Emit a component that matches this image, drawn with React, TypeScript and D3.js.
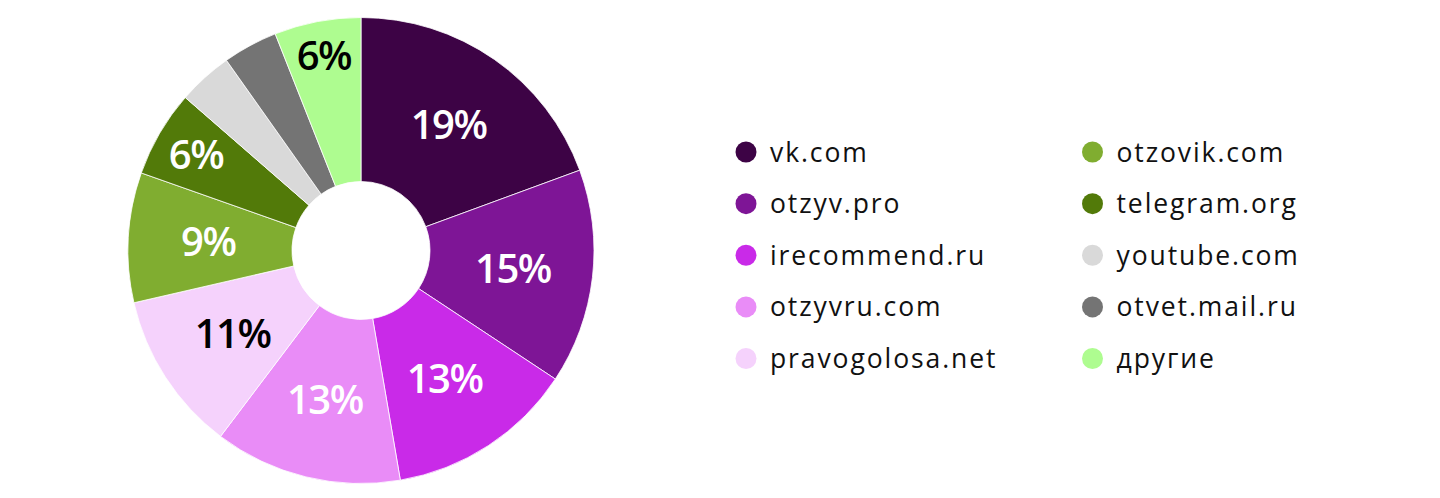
import React, { useEffect, useRef } from "react";
import * as d3 from "d3";

const categories = [
  "vk.com",
  "otzyv.pro",
  "irecommend.ru",
  "otzyvru.com",
  "pravogolosa.net",
  "otzovik.com",
  "telegram.org",
  "youtube.com",
  "otvet.mail.ru",
  "другие",
];
const shares = [19.4, 14.9, 13.0, 13.0, 11.1, 9.0, 6.0, 3.8, 3.8, 6.0];
const palette = [
  "#3d0345",
  "#7e1596",
  "#c92ae8",
  "#e98cf7",
  "#f5d2fc",
  "#80ad30",
  "#527a09",
  "#d9d9d9",
  "#747474",
  "#aefc90",
];

const W = 1440;
const H = 498;
const CX = 361;
const CY = 250.5;
const R_OUT = 233;
const R_IN = 69;
const LABEL_FONT = 40;
const LEGEND_FONT = 26.5;

function luminance(c: string) {
  const rgb = d3.rgb(c);
  const f = (v: number) => {
    const s = v / 255;
    return s <= 0.03928 ? s / 12.92 : Math.pow((s + 0.055) / 1.055, 2.4);
  };
  return 0.2126 * f(rgb.r) + 0.7152 * f(rgb.g) + 0.0722 * f(rgb.b);
}

export default function App() {
  const ref = useRef<SVGSVGElement | null>(null);

  useEffect(() => {
    const svg = d3.select(ref.current);
    svg.selectAll("*").remove();

    const data = categories.map((name, i) => ({ name, value: shares[i], color: palette[i] }));
    const pie = d3
      .pie<any>()
      .value((d) => d.value)
      .sort(null)
      .startAngle(0)
      .endAngle(2 * Math.PI);
    const arcs = pie(data);
    const arc = d3.arc<any>().innerRadius(R_IN).outerRadius(R_OUT);

    const g = svg.append("g").attr("transform", `translate(${CX},${CY})`);
    g.selectAll("path.slice")
      .data(arcs)
      .join("path")
      .attr("class", "slice")
      .attr("d", arc as any)
      .attr("fill", (d: any) => d.data.color)
      .attr("stroke", "#ffffff")
      .attr("stroke-width", 0.8);

    const labels = g
      .selectAll("text.pct")
      .data(arcs)
      .join("text")
      .attr("class", "pct")
      .attr("text-anchor", "middle")
      .attr("font-family", "'Open Sans', sans-serif")
      .attr("font-weight", 600)
      .attr("font-size", LABEL_FONT)
      .attr("letter-spacing", -1.5)
      .attr("fill", (d: any) => (luminance(d.data.color) > 0.6 ? "#000000" : "#ffffff"))
      .text((d: any) => `${Math.round(d.data.value)}%`);

    const pad = 5;
    const capH = LABEL_FONT * 0.72;
    labels.each(function (d: any) {
      const el = this as SVGTextElement;
      const w = el.getComputedTextLength();
      const hw = w / 2 + pad;
      const hh = capH / 2 + pad;
      const mid = (d.startAngle + d.endAngle) / 2;
      const inside = (x: number, y: number) => {
        const r = Math.hypot(x, y);
        if (r < R_IN || r > R_OUT) return false;
        let a = Math.atan2(x, -y);
        if (a < 0) a += 2 * Math.PI;
        return a >= d.startAngle && a <= d.endAngle;
      };
      const base = (R_IN + R_OUT) / 2 + 2;
      let found: number | null = null;
      for (let r = base; r <= R_OUT; r += 1) {
        const cx = Math.sin(mid) * r;
        const cy = -Math.cos(mid) * r;
        if (
          inside(cx - hw, cy - hh) &&
          inside(cx + hw, cy - hh) &&
          inside(cx - hw, cy + hh) &&
          inside(cx + hw, cy + hh)
        ) {
          found = r;
          break;
        }
      }
      if (found === null) {
        d3.select(el).remove();
        return;
      }
      const x = Math.sin(mid) * found;
      const y = -Math.cos(mid) * found;
      d3.select(el)
        .attr("x", x)
        .attr("y", y + capH / 2);
    });

    const legend = svg.append("g");
    const colX = [746, 1092.5];
    const rowY = d3.scalePoint<number>().domain(d3.range(5)).range([152, 358.5]);
    data.forEach((d, i) => {
      const col = Math.floor(i / 5);
      const row = i % 5;
      const y = rowY(row) as number;
      const item = legend.append("g");
      item
        .append("circle")
        .attr("cx", colX[col])
        .attr("cy", y)
        .attr("r", 10.5)
        .attr("fill", d.color);
      item
        .append("text")
        .attr("x", colX[col] + 24)
        .attr("y", y + 9.5)
        .attr("font-family", "'Open Sans', sans-serif")
        .attr("font-size", LEGEND_FONT)
        .attr("letter-spacing", 1.9)
        .attr("fill", "#111111")
        .text(d.name);
    });
  }, []);

  return (
    <div style={{ position: "absolute", left: 0, top: 0, width: W, height: H, background: "#ffffff" }}>
      <svg ref={ref} width={W} height={H} style={{ display: "block" }} />
    </div>
  );
}
